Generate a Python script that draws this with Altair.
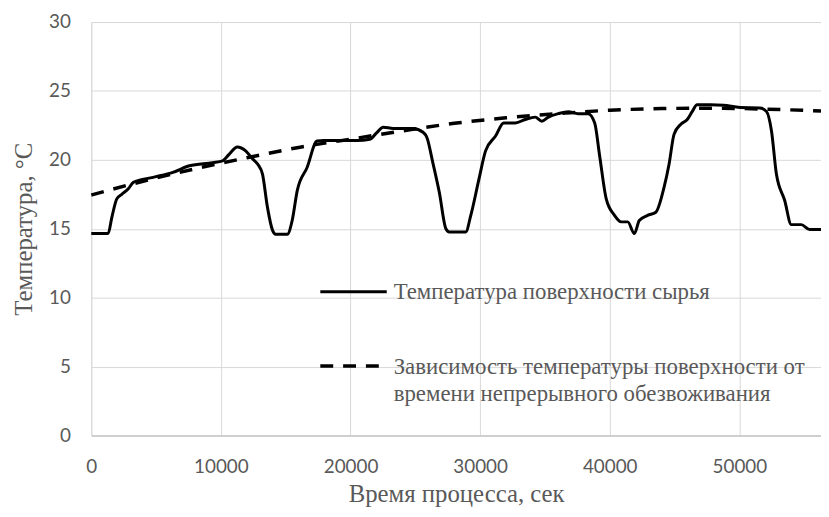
import altair as alt
import pandas as pd

# Measured surface temperature (solid line)
time_s = [0, 1300, 1590, 1970, 2350, 2860, 3240, 4770, 6300, 7570, 9360, 10130,
          10630, 11270, 11910, 12420, 12900, 13210, 13590, 13980, 14230, 15120,
          15500, 15890, 16650, 17420, 17930, 19460, 20480, 21500, 22010, 22520,
          23290, 24820, 25600, 25900, 26350, 26850, 27360, 27620, 28890, 29280,
          29910, 30420, 31190, 31820, 32720, 33480, 34250, 34760, 35270, 36030,
          36800, 37560, 38330, 38840, 39220, 39730, 40370, 40880, 41390, 41900,
          42280, 42920, 43560, 44190, 44580, 44960, 45470, 45980, 46360, 46740,
          47770, 48790, 50060, 51590, 52100, 52480, 52860, 53500, 54010, 54780,
          55420, 56300]
temp_c = [14.65, 14.65, 15.85, 17.17, 17.5, 17.9, 18.37, 18.73, 19.09, 19.57, 19.8, 19.93,
          20.4, 20.93, 20.65, 20.1, 19.6, 18.97, 16.57, 14.9, 14.6, 14.6,
          15.6, 17.77, 19.45, 21.37, 21.4, 21.4, 21.4, 21.5, 21.96, 22.37,
          22.28, 22.28, 22.0, 21.6, 19.8, 17.65, 15.0, 14.77, 14.77, 15.97,
          18.6, 20.65, 21.73, 22.68, 22.68, 22.93, 23.1, 22.8, 23.1, 23.35,
          23.5, 23.35, 23.35, 22.68, 20.3, 17.17, 15.97, 15.5, 15.5, 14.65,
          15.6, 15.97, 16.2, 18.0, 19.7, 21.85, 22.57, 22.93, 23.5, 24.0,
          24.0, 23.96, 23.8, 23.77, 23.5, 22.1, 18.97, 17.05, 15.3, 15.3,
          14.94, 14.94]

# Trend curve (dashed line)
trend_time = [0, 4000, 8000, 12000, 16000, 20000, 24000, 28000, 32000, 36000,
              40000, 44000, 48000, 52000, 56300]
trend_temp = [17.45, 18.45, 19.35, 20.15, 20.9, 21.5, 22.1, 22.65, 23.05, 23.35,
              23.6, 23.72, 23.75, 23.68, 23.55]

legend_solid = "Температура поверхности сырья"
legend_dash_1 = "Зависимость температуры поверхности от"
legend_dash_2 = "времени непрерывного обезвоживания"

x_ticks = [0, 10000, 20000, 30000, 40000, 50000]
y_ticks = [0, 5, 10, 15, 20, 25, 30]

SERIF = "Liberation Serif"
SANS = "Lato"
GRAY = "#595959"

df = pd.DataFrame({"t": time_s, "T": temp_c})
dft = pd.DataFrame({"t": trend_time, "T": trend_temp})

xs = alt.Scale(domain=[0, 56300], nice=False, zero=False)
ys = alt.Scale(domain=[0, 30], nice=False)

xax = alt.Axis(values=x_ticks, format="d", title="Время процесса, сек",
               grid=True, gridColor="#d9d9d9", ticks=False, domain=True,
               domainColor="#c8c8c8", domainWidth=1.5,
               labelFont=SANS, labelFontSize=19, labelColor=GRAY, labelPadding=22,
               labelFlush=False,
               titleFont=SERIF, titleFontSize=25, titleColor=GRAY, titleFontWeight="normal",
               titleBaseline="alphabetic", titleY=67)
yax = alt.Axis(values=y_ticks, title="Температура, °C",
               grid=True, gridColor="#d9d9d9", ticks=False, domain=False,
               labelFont=SANS, labelFontSize=19, labelColor=GRAY, labelPadding=21,
               titleFont=SERIF, titleFontSize=25, titleColor=GRAY, titleFontWeight="normal",
               titleBaseline="alphabetic", titleX=-60)

solid = alt.Chart(df).mark_line(color="black", strokeWidth=3, interpolate="monotone").encode(
    x=alt.X("t:Q", scale=xs, axis=xax),
    y=alt.Y("T:Q", scale=ys, axis=yax),
)
dashed = alt.Chart(dft).mark_line(color="black", strokeWidth=3.5, strokeDash=[13, 10],
                                  interpolate="monotone").encode(
    x=alt.X("t:Q", scale=xs),
    y=alt.Y("T:Q", scale=ys),
)

one = alt.Data(values=[{}])
leg_rule1 = alt.Chart(one).mark_rule(color="black", strokeWidth=3).encode(
    x=alt.value(231), x2=alt.value(298), y=alt.value(272))
leg_rule2 = alt.Chart(one).mark_rule(color="black", strokeWidth=3.5, strokeDash=[13, 10]).encode(
    x=alt.value(231), x2=alt.value(298), y=alt.value(347))
txt = dict(font=SERIF, fontSize=23, color=GRAY, align="left", baseline="alphabetic")
leg_t1 = alt.Chart(one).mark_text(**txt).encode(x=alt.value(305), y=alt.value(279), text=alt.value(legend_solid))
leg_t2 = alt.Chart(one).mark_text(**txt).encode(x=alt.value(305), y=alt.value(355), text=alt.value(legend_dash_1))
leg_t3 = alt.Chart(one).mark_text(**txt).encode(x=alt.value(305), y=alt.value(382), text=alt.value(legend_dash_2))

chart = alt.layer(solid, dashed, leg_rule1, leg_rule2, leg_t1, leg_t2, leg_t3).properties(
    width=736, height=417,
    autosize=alt.AutoSizeParams(type="none"),
    padding={"left": 84, "top": 12, "right": 0, "bottom": 72},
).configure_view(stroke=None).configure(background="white")

chart.save("out.html", embed_options={"renderer": "svg", "actions": False})
